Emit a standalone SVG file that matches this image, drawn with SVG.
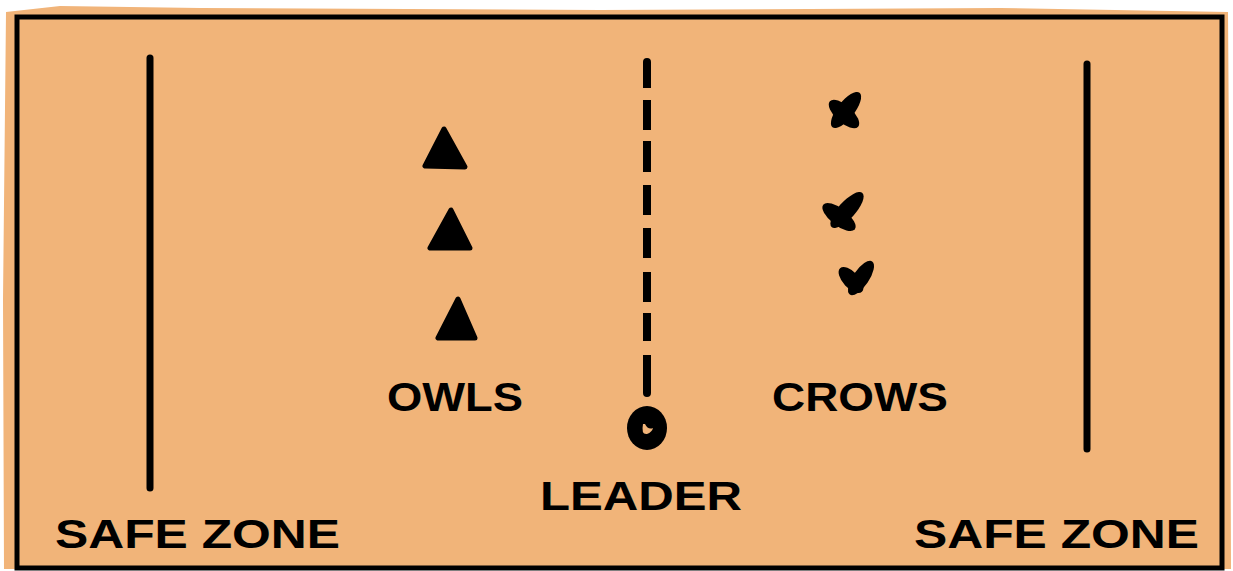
<svg xmlns="http://www.w3.org/2000/svg" width="1233" height="571" viewBox="0 0 1233 571">
<style>
.ink{stroke:#000;fill:none;stroke-linecap:round;stroke-linejoin:round}
.lbl{font-family:"Liberation Sans",Arial,sans-serif;font-weight:bold;font-size:40px;fill:#000}
.tri{fill:#000;stroke:#000;stroke-width:5;stroke-linejoin:round}
</style>
<rect width="1233" height="571" fill="#fff"/>
<g id="field">
<path d="M6,12 L60,6 L200,8 L600,10 L1000,8 L1228,12 L1230,300 L1231,569 L4,569 L3,300 Z" fill="#F1B479"/>
<rect x="17" y="17" width="1205" height="551" fill="#F1B479" stroke="#000" stroke-width="5"/>
</g>
<g id="connectors">
<line class="ink" x1="150" y1="58" x2="150" y2="488" stroke-width="7"/>
<line class="ink" x1="1087" y1="64" x2="1087" y2="449" stroke-width="7"/>
<path d="M647,62 L647,88 M647,100 L647,130 M647,141 L647,172 M647,185 L647,215 M647,228 L647,258 M647,272 L647,302 M647,313 L647,341 M647,355 L647,393" stroke="#000" stroke-width="8" fill="none"/>
<path d="M647,62 L647,64 M647,391 L647,393" class="ink" stroke-width="8"/>
</g>
<g id="owls">
<path class="tri" d="M444,129 L425,166 L465,167 Z"/>
<path class="tri" d="M451,210 L430,248 L470,248 Z"/>
<path class="tri" d="M458,299 L438,338 L475,338 Z"/>
<text class="lbl" x="387" y="411" textLength="136" lengthAdjust="spacingAndGlyphs">OWLS</text>
</g>
<g id="crows">
<g fill="#000">
<ellipse cx="0" cy="0" rx="22" ry="8.5" transform="translate(846,110) rotate(-52)"/>
<ellipse cx="0" cy="0" rx="19" ry="8.5" transform="translate(844,114) rotate(42)"/>
<ellipse cx="0" cy="0" rx="23" ry="8.5" transform="translate(847,210) rotate(-48)"/>
<ellipse cx="0" cy="0" rx="20" ry="8.5" transform="translate(839,217) rotate(38)"/>
<ellipse cx="0" cy="0" rx="20" ry="8" transform="translate(861,278) rotate(-56)"/>
<ellipse cx="0" cy="0" rx="16" ry="8" transform="translate(851,280) rotate(47)"/>
</g>
<text class="lbl" x="772" y="411" textLength="176" lengthAdjust="spacingAndGlyphs">CROWS</text>
</g>
<g id="leader">
<ellipse cx="647" cy="428" rx="20" ry="22" fill="#000"/>
<path d="M643,424 Q641,435 647,434 Q652,432 653,428 Q648,430 645,424 Z" fill="#F1B479"/>
<text class="lbl" x="540" y="510" textLength="202" lengthAdjust="spacingAndGlyphs">LEADER</text>
</g>
<g id="safe-left">
<text class="lbl" x="55" y="548" textLength="285" lengthAdjust="spacingAndGlyphs">SAFE ZONE</text>
</g>
<g id="safe-right">
<text class="lbl" x="914" y="548" textLength="285" lengthAdjust="spacingAndGlyphs">SAFE ZONE</text>
</g>
</svg>
